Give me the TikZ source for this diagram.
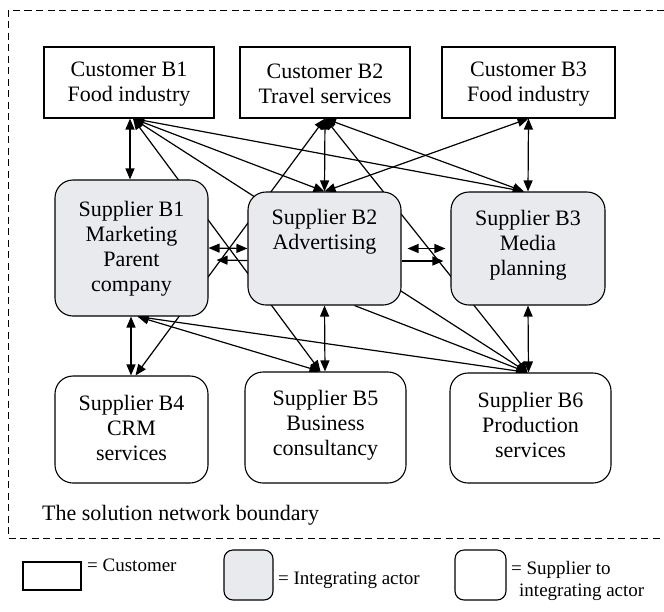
\documentclass[tikz,border=0pt]{standalone}
\usepackage{fontspec}
\setmainfont{Liberation Serif}
\usetikzlibrary{arrows.meta}
\pgfdeclarelayer{background}
\pgfsetlayers{background,main}
\definecolor{actorgray}{RGB}{233,234,237}
\tikzset{
  custbox/.style={draw, line width=1.1pt, fill=white, inner sep=0pt},
  intbox/.style={draw, line width=1.1pt, fill=actorgray, rounded corners=18pt, inner sep=0pt},
  supbox/.style={draw, line width=1.1pt, fill=white, rounded corners=18pt, inner sep=0pt},
  lbl/.style={font=\fontsize{22}{25}\selectfont, align=center, inner sep=0pt},
  legtxt/.style={font=\fontsize{19}{22}\selectfont, inner sep=0pt, anchor=base west},
  tipshape/.style={},
  biarrow/.style={line width=1.2pt, {Triangle[length=11pt,width=9pt]}-{Triangle[length=11pt,width=9pt]}},
  uniarrow/.style={line width=1.2pt, -{Triangle[length=11pt,width=9pt]}},
  boundary/.style={line width=0.9pt, dash pattern=on 7pt off 4.5pt},
}
\begin{document}
\begin{tikzpicture}[x=1pt,y=-1pt]
\useasboundingbox (0,0) rectangle (664,611);

% solution network boundary (open to the right)
\draw[boundary] (664,10) -- (8,10) -- (8,538) -- (664,538);
\node[font=\fontsize{22}{25}\selectfont, anchor=base west, inner sep=0pt] (bnd) at (42,520) {The solution network boundary};

% customers
\node[custbox, minimum width=170pt, minimum height=71pt] (C1) at (129,82.5) {};
\node[custbox, minimum width=170pt, minimum height=71pt] (C2) at (325,82.5) {};
\node[custbox, minimum width=173pt, minimum height=71pt] (C3) at (528.5,82.5) {};
\node[lbl] (C1t) at (129,84) {Customer B1\\Food industry};
\node[lbl] (C2t) at (325,84) {Customer B2\\Travel services};
\node[lbl] (C3t) at (528.5,84) {Customer B3\\Food industry};

% integrating actors
\node[intbox, minimum width=153pt, minimum height=136pt] (S1) at (131.5,248) {};
\node[intbox, minimum width=153pt, minimum height=113pt] (S2) at (324.5,248.5) {};
\node[intbox, minimum width=154pt, minimum height=113pt] (S3) at (528,248.5) {};
\node[lbl] (S1t) at (131.5,249) {Supplier B1\\Marketing\\Parent\\company};
\node[lbl] (S2t) at (324.5,232) {Supplier B2\\Advertising};
\node[lbl] (S3t) at (528,245) {Supplier B3\\Media\\planning};

% suppliers to integrating actors
\node[supbox, minimum width=153pt, minimum height=107pt] (S4) at (131.5,429.5) {};
\node[supbox, minimum width=161pt, minimum height=111pt] (S5) at (325.5,427.5) {};
\node[supbox, minimum width=161pt, minimum height=110pt] (S6) at (530.5,428) {};
\node[lbl] (S4t) at (131.5,428) {Supplier B4\\CRM\\services};
\node[lbl] (S5t) at (325.5,425) {Supplier B5\\Business\\consultancy};
\node[lbl] (S6t) at (530.5,425) {Supplier B6\\Production\\services};

% connection points
\coordinate (c1h) at ([xshift=4pt]C1.south);
\coordinate (c1v) at ([xshift=1pt]C1.south);
\coordinate (s1v) at ([xshift=-1.5pt]S1.north);
\coordinate (c2h) at (C2.south);
\coordinate (c3h) at (C3.south);
\coordinate (s2t) at (S2.north);
\coordinate (s3t) at ([xshift=-4pt]S3.north);
\coordinate (s3v) at (S3.north);
\coordinate (s1b) at ([xshift=6pt]S1.south);
\coordinate (s1v2) at ([xshift=-0.5pt]S1.south);
\coordinate (s4v) at ([xshift=-0.5pt]S4.north);
\coordinate (s4t) at ([xshift=4pt]S4.north);
\coordinate (s2b) at (S2.south);
\coordinate (s2b2) at ([xshift=30pt]S2.south);
\coordinate (s5t) at ([xshift=-5pt]S5.north);
\coordinate (s5v) at ([xshift=-0.5pt]S5.north);
\coordinate (s3b) at (S3.south);
\coordinate (s6t) at ([xshift=-3pt]S6.north);
\coordinate (s6v) at ([xshift=-2pt]S6.north);
\coordinate (g1a) at ([yshift=-12pt]S2.west);
\coordinate (g1b) at ([xshift=8pt,yshift=-12pt]S1.east);
\coordinate (g2a) at ([xshift=6pt]S2.east);
\coordinate (g2b) at ([xshift=-5pt]S3.west);
\coordinate (g3a) at ([yshift=-12.5pt]S2.east);
\coordinate (g3b) at ([xshift=-7pt,yshift=-12.5pt]S3.west);

\begin{pgfonlayer}{background}
  % customer links
  \draw[biarrow] (c1v) -- (s1v);
  \draw[biarrow] (c1h) -- (s5t);
  \draw[biarrow] (c1h) -- (s6t);
  \draw[biarrow] (c1h) -- (s2t);
  \draw[biarrow] (c1h) -- (s3t);
  \draw[biarrow] (c2h) -- (s4t);
  \draw[biarrow] (c2h) -- (s2t);
  \draw[biarrow] (c2h) -- (s6t);
  \draw[biarrow] (c2h) -- (s3t);
  \draw[biarrow] (c3h) -- (s2t);
  \draw[biarrow] (c3h) -- (s3v);
  % links among integrating actors
  \draw[biarrow] (S1.east) -- (S2.west);
  \draw[uniarrow] (g1a) -- (g1b);
  \draw[biarrow] (g2a) -- (g2b);
  \draw[uniarrow] (g3a) -- (g3b);
  % links to suppliers
  \draw[biarrow] (s1v2) -- (s4v);
  \draw[biarrow] (s1b) -- (s5t);
  \draw[biarrow] (s1b) -- (s6t);
  \draw[biarrow] (s2b) -- (s5v);
  \draw[uniarrow] (s2b2) -- (s6t);
  \draw[biarrow] (s3b) -- (s6v);
\end{pgfonlayer}

% legend
\node[custbox, minimum width=58pt, minimum height=28pt] (LC) at (52,576) {};
\node[legtxt] (LCt) at (87,571) {= Customer};
\node[intbox, rounded corners=9pt, minimum width=49pt, minimum height=50pt] (LI) at (248.5,575) {};
\node[legtxt] (LIt) at (278,584) {= Integrating actor};
\node[supbox, rounded corners=9pt, minimum width=51pt, minimum height=50pt] (LS) at (480.5,575) {};
\node[legtxt] (LSt1) at (511,574) {= Supplier to};
\node[legtxt] (LSt2) at (519,596) {integrating actor};
\end{tikzpicture}
\end{document}
